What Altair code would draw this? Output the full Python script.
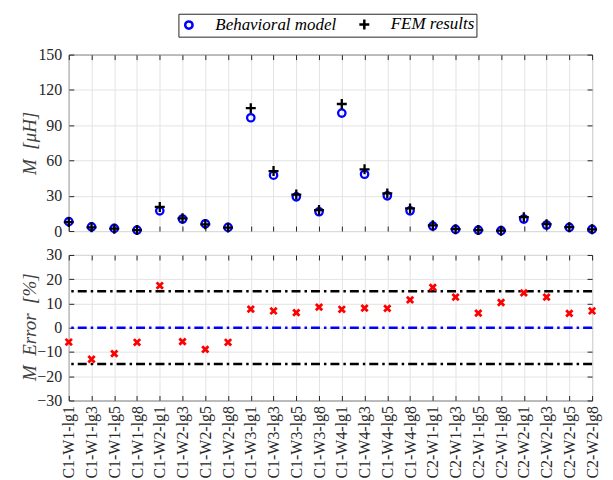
import altair as alt
import pandas as pd

cats = ["C1-W1-lg1", "C1-W1-lg3", "C1-W1-lg5", "C1-W1-lg8",
        "C1-W2-lg1", "C1-W2-lg3", "C1-W2-lg5", "C1-W2-lg8",
        "C1-W3-lg1", "C1-W3-lg3", "C1-W3-lg5", "C1-W3-lg8",
        "C1-W4-lg1", "C1-W4-lg3", "C1-W4-lg5", "C1-W4-lg8",
        "C2-W1-lg1", "C2-W1-lg3", "C2-W1-lg5", "C2-W1-lg8",
        "C2-W2-lg1", "C2-W2-lg3", "C2-W2-lg5", "C2-W2-lg8"]
behavioral = [8.0, 3.6, 2.2, 0.8, 17.2, 10.2, 6.2, 3.1,
              96.3, 47.5, 29.1, 16.4, 100.3, 48.3, 29.9, 17.2,
              4.2, 1.4, 0.8, 0.3, 10.2, 5.1, 3.1, 1.4]
fem = [7.6, 3.2, 2.0, 0.8, 20.5, 10.8, 5.7, 2.9,
       104.5, 51.0, 31.0, 17.8, 108.0, 52.5, 32.0, 19.2,
       4.9, 1.6, 0.85, 0.33, 11.8, 5.8, 3.3, 1.5]
error = [-5.9, -13.0, -10.7, -6.0, 17.4, -5.7, -8.9, -6.0,
         7.7, 6.9, 6.2, 8.5, 7.6, 8.1, 8.0, 11.5,
         16.6, 12.6, 6.0, 10.4, 14.4, 12.6, 5.9, 6.9]
ref_levels = [15, 0, -15]
ref_colors = ["#000000", "#0000ff", "#000000"]

series_names = ["Behavioral model", "FEM results"]

df = pd.DataFrame({"cat": cats, "Behavioral model": behavioral,
                   "FEM results": fem, "err": error})
lines_df = pd.DataFrame({"lvl": ref_levels, "col": ref_colors})

SERIF = "Liberation Serif"
TXT = "#262626"
W = 525
LBL = 16

x_scale = alt.Scale(type="point", padding=0)

def inner_axis(orient, labels=False, grid=False, **kw):
    return alt.Axis(orient=orient, labels=labels, grid=grid, domain=False,
                    offset=-5, tickSize=5, tickColor=TXT, tickWidth=1,
                    title=None, **kw)

# ---------- top panel ----------
plus_path = "M-1,0L1,0M0,-1L0,1"
top_pts = alt.Chart(df).transform_fold(
    series_names, as_=["series", "val"]
).mark_point(filled=False, strokeWidth=2.3, opacity=1).encode(
    x=alt.X("cat:N", sort=cats, scale=x_scale,
            axis=alt.Axis(orient="bottom", labels=False, grid=True, domain=False,
                          offset=-5, tickSize=5, tickColor=TXT, title=None)),
    y=alt.Y("val:Q", scale=alt.Scale(domain=[0, 150], nice=False),
            axis=alt.Axis(orient="left", values=[0, 30, 60, 90, 120, 150], grid=True,
                          domain=False, offset=-5, tickSize=5, tickColor=TXT,
                          labelPadding=7, labelFont=SERIF, labelFontSize=LBL,
                          title="M\u00a0 [μH]", titleX=-44,
                          titleY=88.5, titleBaseline="middle", titleAngle=-90)),
    color=alt.Color("series:N", scale=alt.Scale(domain=series_names,
                                                range=["#0000ff", "#000000"]),
                    legend=alt.Legend(title=None)),
    shape=alt.Shape("series:N", scale=alt.Scale(domain=series_names,
                                                range=["circle", plus_path])),
    size=alt.Size("series:N", scale=alt.Scale(domain=series_names, range=[55, 100]),
                  legend=None),
    order=alt.Order("series:N"),
)

top_frame = alt.Chart(df).mark_point(opacity=0).encode(
    x=alt.X("cat:N", sort=cats, scale=x_scale, axis=inner_axis("top")),
    y=alt.Y("FEM results:Q", scale=alt.Scale(domain=[0, 150], nice=False),
            axis=inner_axis("right", values=[0, 30, 60, 90, 120, 150])),
)

top = alt.layer(top_pts, top_frame).resolve_axis(
    x="independent", y="independent"
).properties(width=W, height=177)

# ---------- bottom panel ----------
err_pts = alt.Chart(df).mark_point(
    shape="M-1,-1L1,1M-1,1L1,-1", filled=False, color="#ff0000",
    strokeWidth=2.8, size=40, opacity=1
).encode(
    x=alt.X("cat:N", sort=cats, scale=x_scale,
            axis=alt.Axis(orient="bottom", labelAngle=-90, grid=True, domain=False,
                          offset=-5, tickSize=5, tickColor=TXT, labelPadding=5,
                          labelFont=SERIF, labelFontSize=16, title=None)),
    y=alt.Y("err:Q", scale=alt.Scale(domain=[-30, 30], nice=False),
            axis=alt.Axis(orient="left", values=[-30, -20, -10, 0, 10, 20, 30],
                          grid=True, domain=False, offset=-5, tickSize=5,
                          tickColor=TXT, labelPadding=7, labelFont=SERIF,
                          labelFontSize=LBL, title="M\u00a0 Error\u00a0 [%]",
                          titleX=-44, titleY=72, titleBaseline="middle",
                          titleAngle=-90)),
)

ref_lines = alt.Chart(lines_df).mark_rule(
    strokeWidth=2.5, strokeDash=[9, 4, 2.5, 4]
).encode(
    y=alt.Y("lvl:Q", scale=alt.Scale(domain=[-30, 30], nice=False), axis=None),
    color=alt.Color("col:N", scale=None),
)

bot_frame = alt.Chart(df).mark_point(opacity=0).encode(
    x=alt.X("cat:N", sort=cats, scale=x_scale, axis=inner_axis("top")),
    y=alt.Y("err:Q", scale=alt.Scale(domain=[-30, 30], nice=False),
            axis=inner_axis("right", values=[-30, -20, -10, 0, 10, 20, 30])),
)

bottom = alt.layer(ref_lines, err_pts, bot_frame).resolve_axis(
    x="independent", y="independent"
).properties(width=W, height=146)

chart = alt.vconcat(top, bottom, spacing=24, bounds="flush").properties(
    padding={"left": 20, "top": 12, "right": 10, "bottom": 5}
).configure(
    font=SERIF,
).configure_view(
    stroke=TXT, strokeWidth=1
).configure_axis(
    labelFont=SERIF, labelFontSize=LBL, labelColor=TXT,
    titleFont=SERIF, titleFontSize=19, titleFontStyle="italic",
    titleFontWeight="normal", titleColor="#404040",
    gridColor="#e3e3e3", gridWidth=1,
).configure_legend(
    orient="none", legendX=110, legendY=-41, direction="horizontal",
    strokeColor=TXT, fillColor="white", padding=2,
    labelFont=SERIF, labelFontSize=17, labelFontStyle="italic", labelColor="#000000",
    symbolStrokeWidth=2.5, symbolSize=80, labelOffset=18, columnPadding=17,
    cornerRadius=0,
)

chart.save("out.html", embed_options={"renderer": "svg", "actions": False})
